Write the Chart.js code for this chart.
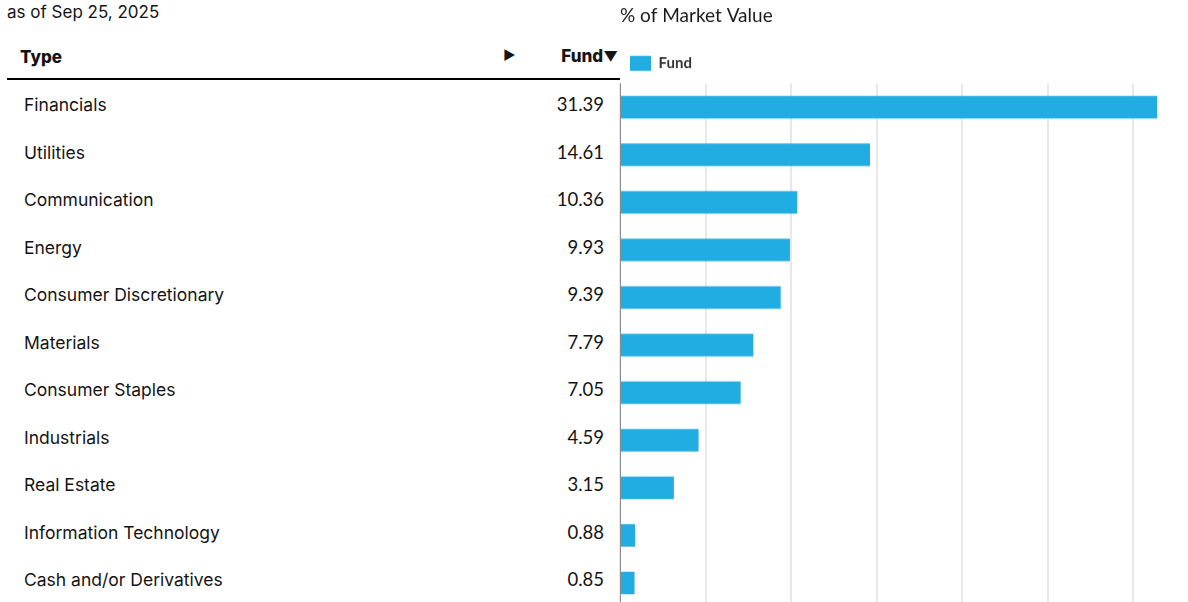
<!DOCTYPE html>
<html>
<head>
<meta charset="utf-8">
<script src="https://cdn.jsdelivr.net/npm/chart.js@4.4.1/dist/chart.umd.min.js"></script>
<style>
  html, body { margin: 0; padding: 0; background: #fff; overflow: hidden; width: 1188px; height: 602px; }
  body { position: relative; font-family: Inter, "Noto Sans", sans-serif; color: #141414; }
  #asof { position: absolute; left: 7px; top: 2px; font-size: 17px; }
  #head { position: absolute; left: 7px; top: 40px; width: 613px; height: 38px; border-bottom: 2px solid #000; font-weight: 800; font-size: 17px; }
  #head .type { position: absolute; left: 13px; top: 7px; }
  #head .arrow { position: absolute; left: 496px; top: 7px; font-size: 13px; }
  #head .fund { position: absolute; right: 2px; top: 6px; }
  #head .fund small { font-size: 14px; }
  .row { position: absolute; left: 0; width: 604px; height: 24px; font-size: 17.5px; }
  .row .name { position: absolute; left: 24px; }
  .row .val { position: absolute; right: 0; top: -1px; font-family: Lato, sans-serif; font-size: 18.5px; }
  #wrap { position: absolute; left: 619px; top: 0; width: 600px; height: 606px; }
</style>
</head>
<body>
<div id="asof">as of Sep 25, 2025</div>
<div id="head"><span class="type">Type</span><span class="arrow">&#9654;</span><span class="fund">Fund<small>&#9660;</small></span></div>
<div id="rows"></div>
<div id="wrap"><canvas id="myChart"></canvas></div>
<script>
const sectors = ['Financials', 'Utilities', 'Communication', 'Energy', 'Consumer Discretionary',
  'Materials', 'Consumer Staples', 'Industrials', 'Real Estate', 'Information Technology',
  'Cash and/or Derivatives'];
const fundWeights = [31.39, 14.61, 10.36, 9.93, 9.39, 7.79, 7.05, 4.59, 3.15, 0.88, 0.85];
const xTicks = [0, 5, 10, 15, 20, 25, 30, 35];

// table on the left
const rows = document.getElementById('rows');
sectors.forEach(function(name, i) {
  const div = document.createElement('div');
  div.className = 'row';
  div.style.top = (94 + i * 47.5) + 'px';
  div.innerHTML = '<span class="name">' + name + '</span><span class="val">' + fundWeights[i].toFixed(2) + '</span>';
  rows.appendChild(div);
});

// plot area starts ~83px down, bands of 47.5px
const plotTop = 83.25;
const bandH = 47.5;
document.getElementById('wrap').style.height = (plotTop + bandH * sectors.length) + 'px';

document.addEventListener('DOMContentLoaded', function() {
  const ctx = document.getElementById('myChart').getContext('2d');

  new Chart(ctx, {
    type: 'bar',
    data: {
      labels: sectors,
      datasets: [{
        label: 'Fund',
        data: fundWeights,
        backgroundColor: '#22ade2',
        borderWidth: 0,
        barPercentage: 0.476,
        categoryPercentage: 1.0
      }]
    },
    options: {
      indexAxis: 'y',
      responsive: true,
      maintainAspectRatio: false,
      animation: false,
      layout: { padding: { left: 1, top: 0, right: 0, bottom: 0 } },
      scales: {
        x: {
          min: 0,
          max: 35,
          afterBuildTicks: function(axis) { axis.ticks = xTicks.map(v => ({ value: v })); },
          ticks: { display: false },
          grid: { color: '#e8e8e8', lineWidth: 2, drawTicks: false },
          border: { display: false }
        },
        y: {
          ticks: { display: false },
          grid: { display: false, drawTicks: false },
          border: { display: true, color: '#8c8c8c', width: 1 }
        }
      },
      plugins: {
        title: {
          display: true,
          text: '% of Market Value',
          align: 'start',
          color: '#1a1a1a',
          font: { family: 'Lato', size: 19, weight: 'normal' },
          padding: { top: 4, bottom: 19 }
        },
        legend: {
          align: 'start',
          labels: {
            boxWidth: 21,
            boxHeight: 15,
            color: '#333',
            font: { family: 'Lato', size: 15, weight: 'bold' },
            padding: 10
          }
        },
        tooltip: { enabled: false }
      }
    },
    plugins: [{
      // extra gap under the legend so the plot area starts at plotTop
      id: 'legendGap',
      afterInit: function(chart) {
        const legend = chart.legend;
        const fit = legend.fit;
        legend.fit = function() {
          fit.call(this);
          const used = chart.titleBlock ? chart.titleBlock.height : 0;
          this.height = Math.max(this.height, plotTop - used);
        };
      }
    }]
  });
});
</script>
</body>
</html>
